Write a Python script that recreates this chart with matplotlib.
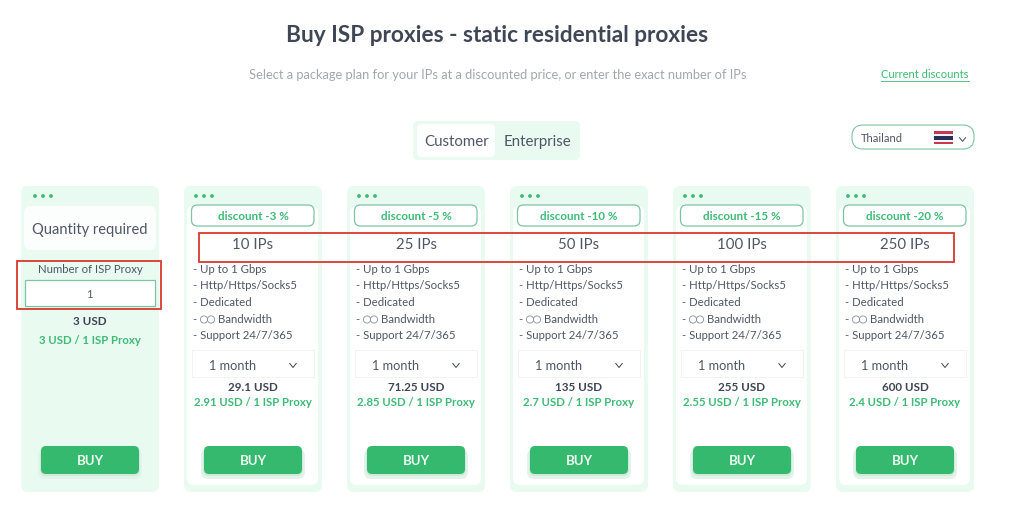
import matplotlib
matplotlib.use("Agg")
import matplotlib.pyplot as plt
from matplotlib.patches import FancyBboxPatch, Rectangle, Circle

plt.rcParams['font.family'] = ['Lato', 'DejaVu Sans']

DISCOUNTS = ["discount -3 %", "discount -5 %", "discount -10 %", "discount -15 %", "discount -20 %"]
PACKAGES = ["10 IPs", "25 IPs", "50 IPs", "100 IPs", "250 IPs"]
TOTALS = ["29.1 USD", "71.25 USD", "135 USD", "255 USD", "600 USD"]
UNIT_PRICES = ["2.91 USD / 1 ISP Proxy", "2.85 USD / 1 ISP Proxy", "2.7 USD / 1 ISP Proxy",
               "2.55 USD / 1 ISP Proxy", "2.4 USD / 1 ISP Proxy"]
FEATURES = ["- Up to 1 Gbps", "- Http/Https/Socks5", "- Dedicated", "- ", "- Support 24/7/365"]
CARD_X = [184, 347, 510, 673, 836]
FEATURE_Y = [269, 285, 302, 319, 335]

DARK = "#3f4656"
GREY = "#4f5766"
LIGHT = "#a3a7ae"
GREEN = "#3dbb75"
BTN = "#35b96f"
PALE = "#e9faf1"
EDGE = "#7cc5a1"
RED = "#d8392c"

fig = plt.figure(figsize=(10.24, 5.07), dpi=100)
ax = fig.add_axes([0, 0, 1, 1])
ax.set_xlim(0, 1024)
ax.set_ylim(507, 0)
ax.axis("off")


def rbox(x, y, w, h, r=6, fc="white", ec="none", lw=1, z=1, alpha=None):
    p = FancyBboxPatch((x + r, y + r), w - 2 * r, h - 2 * r, boxstyle=f"round,pad={r},rounding_size={r}",
                       fc=fc, ec=ec, lw=lw, zorder=z, alpha=alpha)
    ax.add_patch(p)


def txt(x, y, s, size, color=DARK, weight="normal", ha="center", z=6):
    return ax.text(x, y + 1, s, fontsize=size, color=color, fontweight=weight, ha=ha, va="center", zorder=z)


def dots(x0):
    for dx in (0, 8, 16):
        ax.add_patch(Circle((x0 + dx, 196), 1.9, fc=GREEN, ec="none", zorder=3))


def chevron(cx, cy, w=4, h=2.5, color=DARK):
    ax.plot([cx - w, cx, cx + w], [cy - h, cy + h, cy - h], color=color, lw=0.7, zorder=6)


def buy(cx):
    rbox(cx - 52, 449, 104, 30, r=7, fc="#e2f4ea", z=2)
    rbox(cx - 50, 448, 100, 28, r=6, fc="#cfeadb", z=2)
    rbox(cx - 49, 446, 98, 28, r=5, fc=BTN, z=3)
    txt(cx, 460, "BUY", 9.5, "#eefaf3", "bold")


# Header
txt(497, 35, "Buy ISP proxies - static residential proxies", 16.3, DARK, "bold")
txt(497.5, 74, "Select a package plan for your IPs at a discounted price, or enter the exact number of IPs", 9.32, LIGHT)
txt(925, 74, "Current discounts", 8, GREEN)
ax.plot([881, 969], [80.5, 80.5], color=GREEN, lw=0.6, zorder=6)

# Customer / Enterprise toggle
rbox(413, 121, 167, 39, r=5, fc=PALE)
rbox(417, 124, 78, 33, r=5, fc="white", z=2)
txt(456.5, 141, "Customer", 10.8, GREY)
txt(537.5, 141, "Enterprise", 10.8, GREY)

# Country selector
rbox(852, 125, 122, 24, r=11, fc="white", ec=EDGE, lw=0.8)
txt(861, 138, "Thailand", 8, GREY, ha="left")
for y, h, c in [(131, 13, "#c8394f"), (133.5, 8, "#f4f4f4"), (135.5, 4, "#2b2d5b")]:
    ax.add_patch(Rectangle((934, y), 19, h, fc=c, ec="none", zorder=5))
chevron(962.5, 139.5, 3, 1.8)

# Quantity card
rbox(21, 186, 138, 306, r=7, fc=PALE)
dots(35)
rbox(24, 206, 132, 44, r=7, fc="#fbfefc", z=2)
txt(90, 229, "Quantity required", 10.5, GREY)
txt(90, 268.4, "Number of ISP Proxy", 8.2, GREY)
ax.add_patch(Rectangle((24.5, 280), 130.5, 26, fc="white", ec=EDGE, lw=0.9, zorder=3))
txt(89.5, 294, "1", 8, GREY)
txt(90, 320.4, "3 USD", 8.4, DARK, "bold")
txt(90, 340, "3 USD / 1 ISP Proxy", 8.2, GREEN, "bold")
buy(90)
ax.add_patch(Rectangle((16.5, 260.5), 144, 48, fc="none", ec=RED, lw=1.3, zorder=7))

# Package cards
for x, disc, pack, total, unit in zip(CARD_X, DISCOUNTS, PACKAGES, TOTALS, UNIT_PRICES):
    cx = x + 69
    rbox(x, 186, 138, 306, r=7, fc=PALE)
    rbox(x + 3, 206, 131, 279, r=7, fc="white", z=2)
    dots(x + 12)
    rbox(x + 7.5, 205, 122.5, 21, r=6, fc="white", ec=EDGE, lw=0.9, z=3)
    txt(cx, 216, disc, 8.4, GREEN, "bold")
    txt(cx, 244, pack, 10.8, GREY)
    for fy, feat in zip(FEATURE_Y, FEATURES):
        txt(x + 9, fy - 0.6, feat, 8.2, GREY, ha="left")
    # Unlimited-bandwidth sign drawn as two linked rings, as in the reference
    for dx in (20, 27):
        ax.add_patch(Circle((x + dx, 319.5), 3.6, fc="none", ec="#8a909a", lw=0.6, zorder=6))
    txt(x + 34, 318.4, "Bandwidth", 8.2, GREY, ha="left")
    ax.add_patch(Rectangle((x + 7.5, 350), 122, 27, fc="white", ec="#f0f3f2", lw=0.7, zorder=3))
    txt(x + 49, 365, "1 month", 9.2, GREY)
    chevron(x + 109, 365.5, 3.2, 2)
    txt(cx, 386.5, total, 8.4, DARK, "bold")
    txt(cx, 402, unit, 8.2, GREEN, "bold")
    buy(cx)

# Highlight around the package sizes
ax.add_patch(Rectangle((198.5, 232.5), 755, 29, fc="none", ec=RED, lw=1.3, zorder=7))

fig.savefig("out.png", dpi=100, facecolor="white")
